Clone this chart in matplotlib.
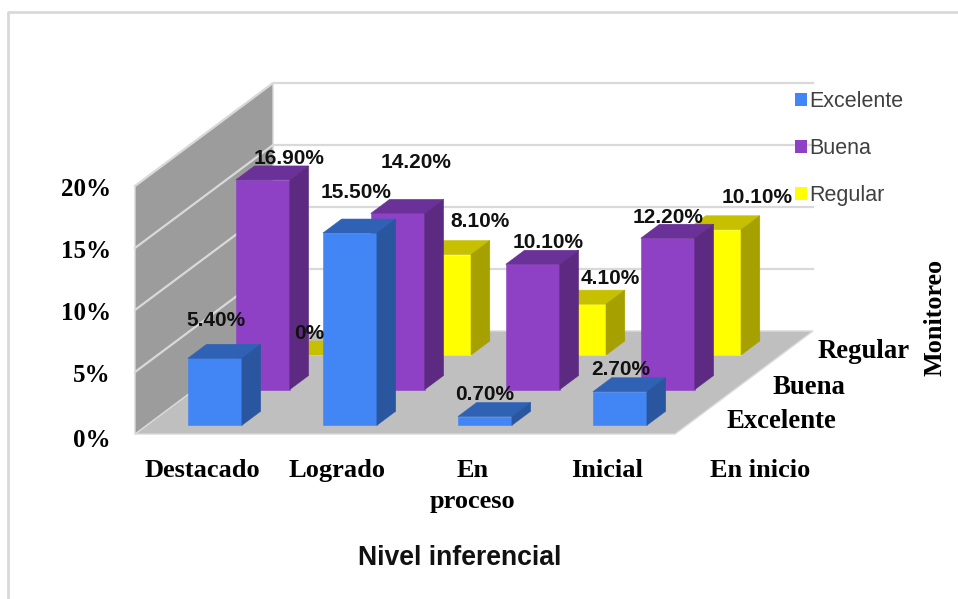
import matplotlib
matplotlib.use("Agg")
import matplotlib.pyplot as plt
from matplotlib.patches import Polygon, Patch

categories = ["Destacado", "Logrado", "En\nproceso", "Inicial"]
series_names = ["Excelente", "Buena", "Regular"]
excelente = [5.4, 15.5, 0.7, 2.7]
buena = [16.9, 14.2, 10.1, 12.2]
regular = [0, 8.1, 4.1, 10.1]
value_ticks = [0, 5, 10, 15, 20]

# label nudges in pixels from the centre of each bar's top front edge
excelente_off = [(1, 38), (6, 41), (0, 22), (1, 22)]
buena_off = [(26, 21), (18, 51), (15, 22), (0, 21)]
regular_off = [(0, 21), (36, 33), (31, 26), (43, 32)]

colors = {
    "Excelente": ("#4285f4", "#2f62b5", "#2a569f"),
    "Buena": ("#8e41c5", "#6a3198", "#5c2a80"),
    "Regular": ("#ffff00", "#c6c000", "#a6a000"),
}
row_front = {"Excelente": 0.085, "Buena": 0.432, "Regular": 0.767}

BAR_W = 0.4
BAR_OFF = 0.305
BAR_D = 0.136
GRID = "#d9d9d9"

fig = plt.figure(figsize=(9.58, 5.99), dpi=100)
ax = fig.add_axes([0, 0, 1, 1])
# one category = 135 px, one percent = 12.4 px, origin at the front left floor corner
ax.set_xlim(-135 / 135, (958 - 135) / 135)
ax.set_ylim(-(599 - 434) / 12.4, 434 / 12.4)
ax.axis("off")


def proj(cat, depth, val):
    # oblique projection: depth moves right and up
    return cat + depth * 138 / 135, val + depth * 103 / 12.4


def box(cat, depth, val, name):
    front, top, side = colors[name]
    x0, x1 = cat + BAR_OFF, cat + BAR_OFF + BAR_W
    d0, d1 = depth, depth + BAR_D
    faces = [
        ([(x0, d0, 0), (x1, d0, 0), (x1, d0, val), (x0, d0, val)], front),
        ([(x0, d0, val), (x1, d0, val), (x1, d1, val), (x0, d1, val)], top),
        ([(x1, d0, 0), (x1, d1, 0), (x1, d1, val), (x1, d0, val)], side),
    ]
    for pts, c in faces:
        ax.add_patch(Polygon([proj(*p) for p in pts], closed=True, fc=c, ec=c, lw=0.4))


# floor and left wall
ax.add_patch(Polygon([proj(0, 0, 0), proj(4, 0, 0), proj(4, 1, 0), proj(0, 1, 0)],
                     fc="#bfbfbf", ec=GRID, lw=1))
ax.add_patch(Polygon([proj(0, 0, 0), proj(0, 1, 0), proj(0, 1, 20), proj(0, 0, 20)],
                     fc="#9c9c9c", ec=GRID, lw=1))

for v in value_ticks[1:]:
    a, b, c = proj(0, 0, v), proj(0, 1, v), proj(4, 1, v)
    ax.plot([a[0], b[0], c[0]], [a[1], b[1], c[1]], color=GRID, lw=1.6, zorder=1)

# back rows first so the front rows cover them
values = {"Excelente": excelente, "Buena": buena, "Regular": regular}
offsets = {"Excelente": excelente_off, "Buena": buena_off, "Regular": regular_off}
for name in series_names[::-1]:
    for i, v in enumerate(values[name]):
        box(i, row_front[name], v, name)

for name in series_names:
    for i, v in enumerate(values[name]):
        pos = proj(i + BAR_OFF + BAR_W / 2, row_front[name], v)
        txt = f"{v:.2f}%" if v > 0 else "0%"
        ax.annotate(txt, pos, xytext=offsets[name][i], textcoords="offset pixels",
                    ha="center", va="center", fontsize=15, fontweight="bold",
                    family="Liberation Sans", color="#111111", zorder=20)

serif = dict(family="Liberation Serif", fontweight="bold", color="black")

for v in value_ticks:
    nudge = 0.25 if v == 0 else 0
    ax.text(-24 / 135, v - 0.3 - nudge, f"{v}%", ha="right", va="center", fontsize=18, **serif)

for i, c in enumerate(categories):
    ax.text(i + 0.5, -25 / 12.4, c, ha="center", va="top", fontsize=19,
            linespacing=1.45, **serif)
ax.text(625 / 135, -25 / 12.4, "En inicio", ha="center", va="top", fontsize=19, **serif)

# series names along the depth axis
ax.text((781 - 135) / 135, (434 - 421) / 12.4, "Excelente", ha="center", va="center", fontsize=19.3, **serif)
ax.text((809 - 135) / 135, (434 - 387) / 12.4, "Buena", ha="center", va="center", fontsize=19.3, **serif)
ax.text((864 - 135) / 135, (434 - 352) / 12.4, "Regular", ha="center", va="center", fontsize=19.3, **serif)
ax.text((935 - 135) / 135, (434 - 317) / 12.4, "Monitoreo", ha="center", va="center",
        rotation=90, fontsize=18.8, **serif)

ax.text((460 - 135) / 135, (434 - 558) / 12.4, "Nivel inferencial", ha="center", va="center",
        fontsize=19.2, fontweight="bold", family="Liberation Sans", color="#111111")

handles = [Patch(fc=colors[n][0], ec="none", label=n) for n in series_names]
ax.legend(handles=handles, loc="upper left", frameon=False,
          bbox_to_anchor=((795 - 135) / 135, (434 - 91) / 12.4), bbox_transform=ax.transData,
          prop={"family": "Liberation Sans", "size": 15.5}, labelcolor="#404040",
          handlelength=0.55, handleheight=0.55, handletextpad=0.12, labelspacing=1.2,
          borderpad=0, borderaxespad=0)

# outer frame, open at the right and bottom
fig.add_artist(plt.Line2D([7.5 / 958, 7.5 / 958, 1], [0, 1 - 12 / 599, 1 - 12 / 599],
                          color=GRID, lw=2))

fig.savefig("out.png", dpi=100)
